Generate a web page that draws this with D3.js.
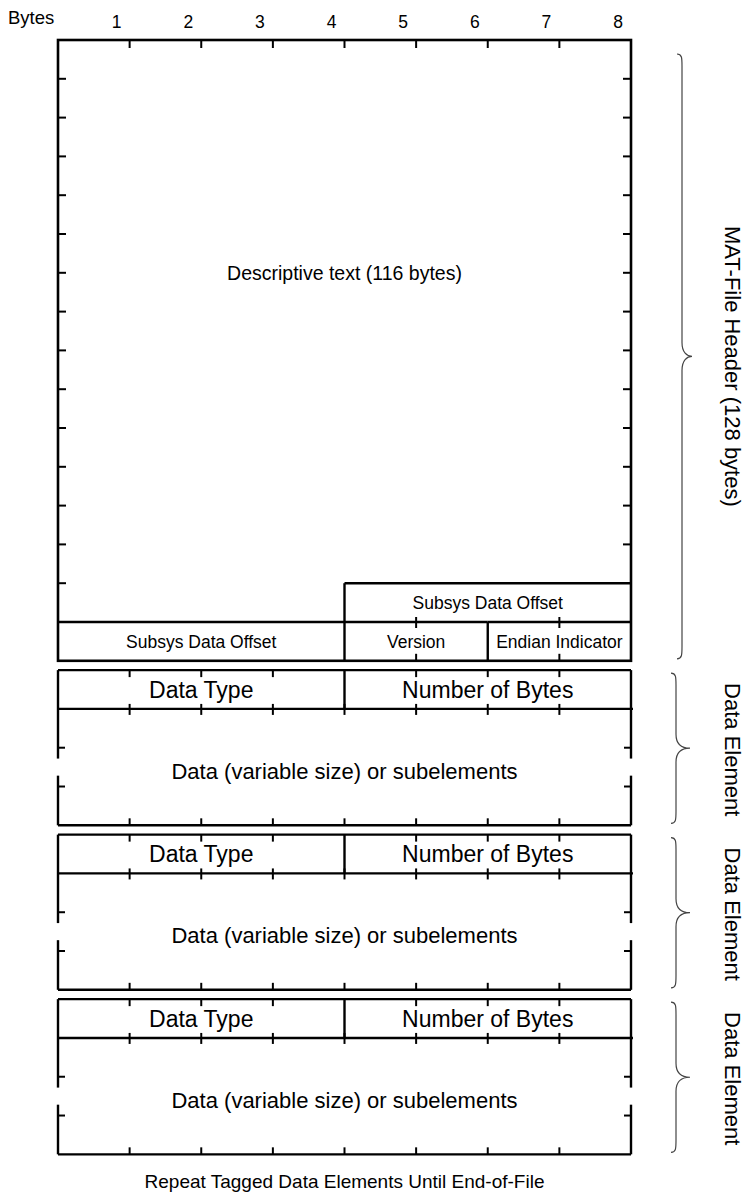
<!DOCTYPE html>
<html>
<head>
<meta charset="utf-8">
<script src="https://cdn.jsdelivr.net/npm/d3@7"></script>
<style>
  body { margin: 0; background: #fff; }
  text { font-family: "Liberation Sans", Arial, sans-serif; fill: #000; }
</style>
</head>
<body>
<svg id="chart" width="747" height="1201"></svg>
<script>
// MAT-file layout diagram. Everything is measured in bytes: 8 bytes per row.
const axisTitle = 'Bytes'
const byteLabels = ['1', '2', '3', '4', '5', '6', '7', '8']

// 128 byte header, fields in byte order
const headerFields = [
  { name: 'Descriptive text (116 bytes)', start: 0, size: 116 },
  { name: 'Subsys Data Offset', start: 116, size: 4 },
  { name: 'Subsys Data Offset', start: 120, size: 4 },
  { name: 'Version', start: 124, size: 2 },
  { name: 'Endian Indicator', start: 126, size: 2 },
]
const headerBytes = 128

// tag of every data element, then its payload
const tagFields = [
  { name: 'Data Type', start: 0, size: 4 },
  { name: 'Number of Bytes', start: 4, size: 4 },
]
const payloadLabel = 'Data (variable size) or subelements'
const elementLabels = ['Data Element', 'Data Element', 'Data Element']
const headerLabel = 'MAT-File Header (128 bytes)'
const footnote = 'Repeat Tagged Data Elements Until End-of-File'

// ---- layout
const BPR = 8                 // bytes per row
const headerRows = headerBytes / BPR
const elemRows = 4            // 1 tag row + 3 rows drawn for the payload
const gapRows = 0.24
const elemTop = (k) => headerRows + gapRows + k * (elemRows + gapRows)
const totalRows = elemTop(elementLabels.length) - gapRows

const x = d3.scaleLinear().domain([0, BPR]).range([58, 631])
const y = d3.scaleLinear().domain([0, totalRows]).range([40, 40 + totalRows * 38.8])

const svg = d3.select('#chart')
const lines = svg.append('g').attr('stroke', '#000').attr('fill', 'none')
const ticks = []   // [x1, y1, x2, y2]
const segs = []    // inner lines, same format
const TL = 8

const rowOf = (b) => Math.floor(b / BPR)
const colOf = (b) => b % BPR

// ---- header
lines.append('rect')
  .attr('x', x(0)).attr('y', y(0))
  .attr('width', x(BPR) - x(0)).attr('height', y(headerRows) - y(0))
  .attr('stroke-width', 2.6)

headerFields.slice(1).forEach((f) => {
  const r = rowOf(f.start), c0 = colOf(f.start), c1 = c0 + f.size
  segs.push([x(c0), y(r), x(c1), y(r)])
  if (c0 > 0) segs.push([x(c0), y(r), x(c0), y(r + 1)])
  // small fields get their byte marks
  if (f.size < 4) {
    for (let b = c0 + 1; b < c1; b++) {
      ticks.push([x(b), y(r) - 5, x(b), y(r) + 6])
      ticks.push([x(b), y(r + 1), x(b), y(r + 1) - 7])
    }
  }
})

// byte marks on the descriptive text area
const descEnd = headerFields[0].size
d3.range(1, BPR).forEach((b) => ticks.push([x(b), y(0), x(b), y(0) + TL]))
d3.range(1, rowOf(descEnd) + 1).forEach((r) => ticks.push([x(0), y(r), x(0) + TL, y(r)]))
d3.range(1, rowOf(descEnd)).forEach((r) => ticks.push([x(BPR), y(r), x(BPR) - TL, y(r)]))

// ---- data elements
elementLabels.forEach((lbl, k) => {
  const t = elemTop(k), b = t + elemRows
  const mid = t + 1 + (elemRows - 1) / 2
  const br0 = mid - 0.22, br1 = mid + 0.22
  // top, tag line, bottom
  segs.push([x(0), y(t), x(BPR), y(t)])
  segs.push([x(0), y(t + 1), x(BPR) + 2, y(t + 1)])
  segs.push([x(0), y(b), x(BPR), y(b)])
  // borders, broken in the middle of the payload
  ;[0, BPR].forEach((c) => {
    segs.push([x(c), y(t), x(c), y(br0)])
    segs.push([x(c), y(br1), x(c), y(b)])
    const dir = c === 0 ? 1 : -1
    ticks.push([x(c), y(t + 2), x(c) + dir * 7, y(t + 2)])
    ticks.push([x(c), y(t + 3), x(c) + dir * 7, y(t + 3)])
  })
  tagFields.slice(1).forEach((f) => segs.push([x(f.start), y(t), x(f.start), y(t + 1)]))
  d3.range(1, BPR).forEach((c) => {
    if (!tagFields.some((f) => f.start === c)) ticks.push([x(c), y(t), x(c), y(t) + 7])
    ticks.push([x(c), y(t + 1) - 5, x(c), y(t + 1) + 6])
    ticks.push([x(c), y(b), x(c), y(b) - 7])
  })
})

lines.append('g').attr('stroke-width', 2.4)
  .selectAll('line').data(segs).join('line')
  .attr('x1', (d) => d[0]).attr('y1', (d) => d[1])
  .attr('x2', (d) => d[2]).attr('y2', (d) => d[3])

lines.append('g').attr('stroke-width', 2)
  .selectAll('line').data(ticks).join('line')
  .attr('x1', (d) => d[0]).attr('y1', (d) => d[1])
  .attr('x2', (d) => d[2]).attr('y2', (d) => d[3])

// ---- texts
const txt = svg.append('g').attr('text-anchor', 'middle')

svg.append('text').attr('x', 8).attr('y', 18).attr('dy', '0.35em')
  .attr('font-size', 18.5).text(axisTitle)

txt.selectAll('.blab').data(byteLabels).join('text')
  .attr('class', 'blab')
  .attr('x', (d, i) => x(i + 1) - 13).attr('y', 22).attr('dy', '0.35em')
  .attr('font-size', 17.5).text((d) => d)

const fieldText = (f, top, size) => {
  const r = top + rowOf(f.start), c = colOf(f.start)
  txt.append('text')
    .attr('x', x(c + f.size / 2)).attr('y', (y(r) + y(r + 1)) / 2).attr('dy', '0.35em')
    .attr('font-size', size).text(f.name)
}

txt.append('text').attr('x', x(BPR / 2)).attr('y', y(6)).attr('dy', '0.35em')
  .attr('font-size', 19.5).text(headerFields[0].name)
headerFields.slice(1).forEach((f) => fieldText(f, 0, 17.5))

elementLabels.forEach((lbl, k) => {
  const t = elemTop(k)
  tagFields.forEach((f) => fieldText(f, t, 23))
  txt.append('text').attr('x', x(BPR / 2)).attr('y', y(t + 2.6)).attr('dy', '0.35em')
    .attr('font-size', 22).text(payloadLabel)
})

txt.append('text').attr('x', x(BPR / 2)).attr('y', 1181).attr('dy', '0.35em')
  .attr('font-size', 19).text(footnote)

// ---- braces with their labels
function brace(sx, y0, y1, depth) {
  const ym = (y0 + y1) / 2
  return `M${sx - 5},${y0} C${sx},${y0} ${sx},${y0 + 4} ${sx},${y0 + 12}
    L${sx},${ym - 14} C${sx},${ym - 4} ${sx + 5},${ym} ${sx + depth},${ym}
    C${sx + 5},${ym} ${sx},${ym + 4} ${sx},${ym + 14}
    L${sx},${y1 - 12} C${sx},${y1 - 4} ${sx},${y1} ${sx - 5},${y1}`
}

const braces = [{ label: headerLabel, r0: 0, r1: headerRows }]
  .concat(elementLabels.map((l, k) => ({ label: l, r0: elemTop(k), r1: elemTop(k) + elemRows })))

svg.append('g').attr('fill', 'none').attr('stroke', '#444').attr('stroke-width', 1.2)
  .selectAll('path').data(braces).join('path')
  .attr('d', (d, i) => i === 0
    ? brace(682, y(d.r0) + 14, y(d.r1) - 2, 10)
    : brace(676, y(d.r0) + 3, y(d.r1) - 2, 14))

svg.append('g').selectAll('text').data(braces).join('text')
  .attr('text-anchor', 'middle')
  .attr('font-size', 22)
  .attr('transform', (d, i) => `translate(733,${(y(d.r0) + y(d.r1)) / 2 + (i === 0 ? 16 : 2)}) rotate(90)`)
  .attr('dy', '0.35em')
  .text((d) => d.label)
</script>
</body>
</html>
